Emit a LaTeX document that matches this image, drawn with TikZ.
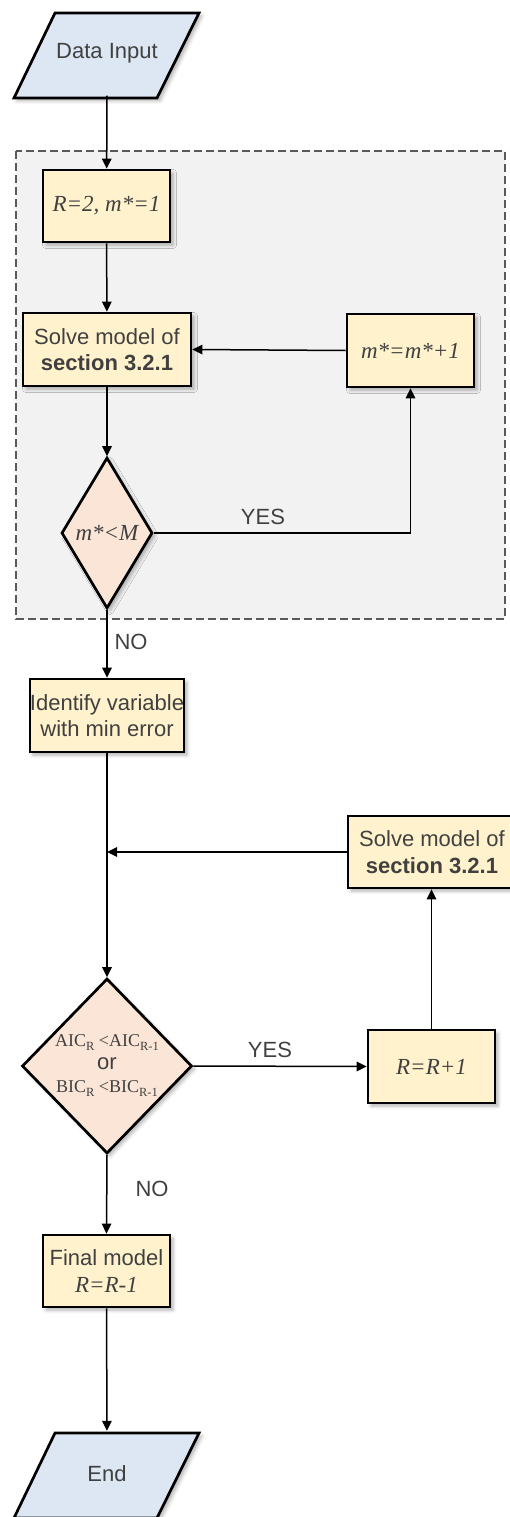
\documentclass[tikz,border=0pt]{standalone}
\usepackage{fontspec}
\setmainfont{Liberation Sans}
\newfontfamily\serifmath{Liberation Serif}
\usetikzlibrary{shapes.geometric,arrows.meta,shadows.blur}

\definecolor{iofill}{HTML}{DDE7F3}
\definecolor{procfill}{HTML}{FFF2CC}
\definecolor{decfill}{HTML}{FBE5D6}
\definecolor{regionfill}{HTML}{F2F2F2}
\definecolor{regionline}{HTML}{595959}
\definecolor{txt}{HTML}{404040}

\newcommand{\mvar}[1]{{\serifmath\itshape\fontsize{23pt}{26.5pt}\selectfont #1}}
\newcommand{\sv}[1]{{\serifmath #1}}
\newcommand{\sub}[1]{\raisebox{-0.22em}{\fontsize{12.5pt}{13pt}\selectfont #1}}

\tikzset{
  softshadow/.style={blur shadow={shadow xshift=3pt, shadow yshift=-3pt,
      shadow blur radius=3.5pt, shadow opacity=30}},
  basetext/.style={text=txt, font=\fontsize{22pt}{26.5pt}\selectfont, align=center},
  procbox/.style={basetext, draw=black, line width=2.7pt, fill=procfill,
      inner sep=0pt, softshadow},
  decision/.style={basetext, diamond, draw=black, line width=2.7pt, fill=decfill,
      inner sep=0pt, softshadow},
  iobox/.style={draw=black, line width=2.7pt, fill=iofill, line join=miter, softshadow},
  iotext/.style={basetext, inner sep=0pt, minimum width=140pt, minimum height=85pt},
  lbl/.style={basetext, inner sep=0pt},
  flow/.style={draw=black, line width=1.5pt, -{Triangle[length=10pt,width=9.5pt]}},
  region/.style={fill=regionfill, draw=regionline, line width=1.5pt,
      dash pattern=on 8pt off 4pt},
}

\begin{document}
\begin{tikzpicture}[x=1pt, y=-1pt]
\useasboundingbox (0,0) rectangle (510,1517);

% dashed group around the inner loop
\path[region] (16,151) rectangle (505,619);

% start: data input
\path[iobox] (55,13) -- (199,13) -- (157,98) -- (14,98) -- cycle;
\node[iotext] (din) at (107,53) {Data Input};

% inner loop over m*
\node[procbox, minimum width=127pt, minimum height=72pt] (r2) at (106.5,206)
  {\mvar{R=2, m*=1}};
\node[procbox, minimum width=168pt, minimum height=73pt] (s1) at (107,349.5)
  {Solve model of\\\textbf{section 3.2.1}};
\node[procbox, minimum width=127pt, minimum height=73pt] (mp) at (410.5,350.5)
  {\mvar{m*=m*+1}};
\node[decision, minimum width=91pt, minimum height=151pt] (d1) at (107,533)
  {\mvar{m*<M}};

% selection of the variable
\node[procbox, minimum width=152pt, minimum height=73pt] (id) at (107,715.5)
  {Identify variable\\with min error};
\coordinate (join) at (107,852);
\node[procbox, minimum width=168pt, minimum height=72pt] (s2) at (432,852)
  {Solve model of\\\textbf{section 3.2.1}};

% outer loop over R
\node[decision, minimum width=170pt, minimum height=175pt,
      font=\fontsize{18pt}{23pt}\selectfont] (d2) at (107,1066)
  {\sv{AIC\sub{R} <AIC\sub{R-1}}\\
   {\fontsize{22pt}{23pt}\selectfont or}\\
   \sv{BIC\sub{R} <BIC\sub{R-1}}};
\node[procbox, minimum width=127pt, minimum height=73pt] (rr) at (431.5,1066.5)
  {\mvar{R=R+1}};
\node[procbox, minimum width=127pt, minimum height=72pt] (fm) at (106.5,1271)
  {Final model\\\mvar{R=R-1}};

% end
\path[iobox] (55,1433) -- (199,1433) -- (157,1518) -- (14,1518) -- cycle;
\node[iotext] (fin) at (107,1473.5) {End};

% branch labels
\node[lbl] (yes1) at (263,517) {YES};
\node[lbl] (no1) at (131,642) {NO};
\node[lbl] (yes2) at (270,1050) {YES};
\node[lbl] (no2) at (152,1189) {NO};

% connectors
\draw[flow] (din.south) -- (r2);
\draw[flow] (r2) -- (s1);
\draw[flow] (s1) -- (d1);
\draw[flow] (d1.east) -| (mp.south);
\draw[flow] (mp.west) -- (s1.east);
\draw[flow] (d1.south) -- (id.north);
\draw[flow] (id.south) -- (d2.north);
\draw[flow] (s2.west) -- (join);
\draw[flow] (d2.east) -- (rr.west);
\draw[flow] (rr.north) -- (rr.north |- s2.south);
\draw[flow] (d2.south) -- (fm.north);
\draw[flow] (fm.south) -- (fin.north);
\end{tikzpicture}
\end{document}
